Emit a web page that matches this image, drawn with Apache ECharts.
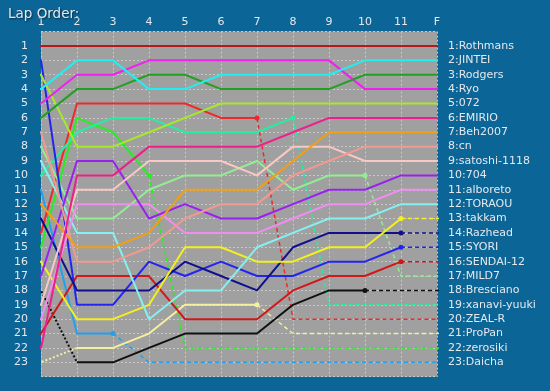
<!DOCTYPE html>
<html>
<head>
<meta charset="utf-8">
<script src="https://cdn.jsdelivr.net/npm/echarts@6/dist/echarts.min.js"></script>
<style>
html,body{margin:0;padding:0;background:#0b6597;}
#chart{width:550px;height:391px;}
</style>
</head>
<body>
<div id="chart"></div>
<script>
// Lap columns (x axis)
const laps = ['1','2','3','4','5','6','7','8','9','10','11','F'];
// Drivers in final order
const drivers = ['Rothmans','JINTEI','Rodgers','Ryo','072','EMIRIO','Beh2007','cn','satoshi-1118','704',
  'alboreto','TORAOU','takkam','Razhead','SYORI','SENDAI-12','MILD7','Bresciano','xanavi-yuuki','ZEAL-R',
  'ProPan','zerosiki','Daicha'];

// Position of each driver at each column
const rothmans  = [1,1,1,1,1,1,1,1,1,1,1,1];
const jintei    = [4,2,2,4,4,3,3,3,3,2,2,2];
const rodgers   = [6,4,4,3,3,4,4,4,4,3,3,3];
const ryo       = [5,3,3,2,2,2,2,2,2,4,4,4];
const d072      = [3,8,8,7,6,5,5,5,5,5,5,5];
const emirio    = [22,10,10,8,8,8,8,7,6,6,6,6];
const beh2007   = [12,15,15,14,11,11,11,9,7,7,7,7];
const cn        = [7,16,16,15,13,12,12,10,9,8,8,8];
const satoshi   = [19,11,11,9,9,9,10,8,8,9,9,9];
const d704      = [17,9,9,13,12,13,13,12,11,11,10,10];
const alboreto  = [20,12,12,12,14,14,14,13,12,12,11,11];
const toraou    = [9,14,14,20,18,18,15,14,13,13,12,12];
const takkam    = [16,20,20,19,15,15,16,16,15,15,13,13];
const razhead   = [13,18,18,18,16,17,18,15,14,14,14,14];
const syori     = [2,19,19,16,17,16,17,17,16,16,15,15];
const sendai    = [21,17,17,17,20,20,20,18,17,17,16,16];
const mild7     = [8,13,13,11,10,10,9,11,10,10,17,17];
const bresciano = [18,23,23,22,21,21,21,19,18,18,18,18];
const xanavi    = [10,7,6,6,7,7,7,6,19,19,19,19];
const zealr     = [14,5,5,5,5,6,6,20,20,20,20,20];
const propan    = [23,22,22,21,19,19,19,21,21,21,21,21];
const zerosiki  = [15,6,7,10,22,22,22,22,22,22,22,22];
const daicha    = [11,21,21,23,23,23,23,23,23,23,23,23];

// Last column (1-based) drawn solid; after it the line is dashed
const solidUntil = [12,12,12,12,12,12,12,12,12,12,12,12,11,11,11,11,10,10,8,7,7,4,3];
// Drivers whose first segment is dotted
const dottedStart = [false,false,false,false,false,false,false,false,false,false,false,false,false,false,false,false,false,true,false,false,true,false,false];

const positions = [rothmans,jintei,rodgers,ryo,d072,emirio,beh2007,cn,satoshi,d704,alboreto,toraou,
  takkam,razhead,syori,sendai,mild7,bresciano,xanavi,zealr,propan,zerosiki,daicha];

const colors = ['#b01c1c','#22eef0','#22a022','#f020f0','#a8e82a','#f01e8c','#f0a010','#f09a90','#f8c8c4','#9a20f0',
  '#f08ef0','#84f0f0','#f4f020','#10108c','#2424f0','#d01818','#90f090','#101010','#20f0a0','#f02828',
  '#f4f0a0','#24f020','#20a0f0'];

const STUB_L = 0.8, STUB_R = 12.25;
const series = [];
positions.forEach((p, i) => {
  const pts = [[STUB_L, p[0]]];
  p.forEach((v, k) => pts.push([k + 1, v]));
  pts.push([STUB_R, p[p.length - 1]]);
  // indices in pts: 0 stub, k+1 for column k+1 (1-based col c -> index c)
  const s = solidUntil[i];
  const base = {type:'line', clip:false, silent:true, animation:false, z: 30 - i,
    lineStyle:{color:colors[i], width:2}, itemStyle:{color:colors[i]}};
  let solidStart = 0;
  if (dottedStart[i]) {
    series.push(Object.assign({}, base, {data: pts.slice(0, 3), symbol:'none',
      lineStyle:{color:colors[i], width:2, type:[2,2]}}));
    solidStart = 2;
  }
  const solidEnd = (s === 12) ? pts.length - 1 : s;
  const solidPts = pts.slice(solidStart, solidEnd + 1);
  series.push(Object.assign({}, base, {data: solidPts, symbol:'circle', showSymbol:true,
    symbolSize: (val, params) => (params.dataIndex === solidPts.length - 1 && s < 12) ? 5 : 0}));
  if (s < 12) {
    series.push(Object.assign({}, base, {data: pts.slice(s), symbol:'none',
      lineStyle:{color:colors[i], width:1.5, type:[4,3]}}));
  }
});

const labelStyle = {color:'#e4e8ec', fontSize:11, fontFamily:'DejaVu Sans'};
const chart = echarts.init(document.getElementById('chart'), null, {renderer:'canvas'});
chart.setOption({
  backgroundColor:'#0b6597',
  animation:false,
  title:{text:'Lap Order:', left:3, top:2, textStyle:Object.assign({}, labelStyle,
    {fontSize:13.5, fontWeight:'normal', textShadowColor:'rgba(0,0,0,0.6)', textShadowBlur:2, textShadowOffsetX:1, textShadowOffsetY:1})},
  grid:{left:41, right:113, top:31.6, bottom:14.3, show:true, backgroundColor:'#a0a0a0', borderWidth:0},
  xAxis:{type:'value', position:'top', min:1, max:12, interval:1,
    axisLine:{show:false}, axisTick:{show:false},
    axisLabel:Object.assign({}, labelStyle, {margin:4, formatter:v => laps[v - 1] || ''}),
    splitLine:{show:true, lineStyle:{color:'#c8c8c8', type:[2,2], width:1}}},
  yAxis:[
    {type:'value', inverse:true, min:0, max:24, interval:1,
      axisLine:{show:false}, axisTick:{show:false},
      axisLabel:Object.assign({}, labelStyle, {margin:13, formatter:v => (v >= 1 && v <= 23) ? String(v) : ''}),
      splitLine:{show:true, lineStyle:{color:'#c8c8c8', type:[2,2], width:1}}},
    {type:'value', inverse:true, min:0, max:24, interval:1, position:'right',
      axisLine:{show:false}, axisTick:{show:false}, splitLine:{show:false},
      axisLabel:Object.assign({}, labelStyle, {margin:11, formatter:v => (v >= 1 && v <= 23) ? v + ':' + drivers[v - 1] : ''})}
  ],
  series: series
});
</script>
</body>
</html>
